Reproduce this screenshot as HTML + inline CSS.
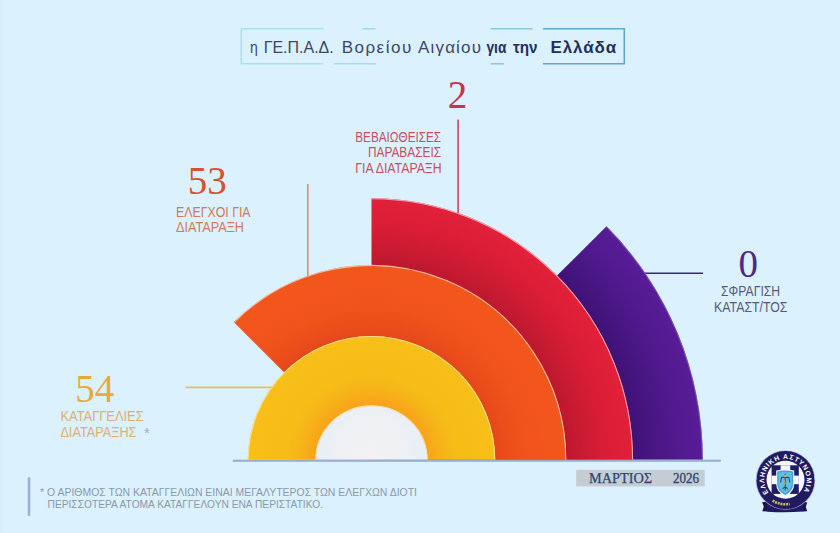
<!DOCTYPE html>
<html><head><meta charset="utf-8">
<style>
html,body{margin:0;padding:0;}
body{width:840px;height:533px;overflow:hidden;background:#dbf1fe;font-family:"Liberation Sans",sans-serif;}
svg{display:block;position:absolute;left:0;top:0;}
.sans{font-family:"Liberation Sans",sans-serif;}
.serif{font-family:"Liberation Serif",serif;}
</style></head><body>
<svg width="840" height="533" viewBox="0 0 840 533">
<defs><radialGradient id="gy" gradientUnits="userSpaceOnUse" cx="371.5" cy="459.8" r="123.75"><stop offset="0.4485" stop-color="#f8a31c"/><stop offset="0.5147" stop-color="#f8ab1a"/><stop offset="0.6139" stop-color="#f6b818"/><stop offset="0.7022" stop-color="#f6bd17"/><stop offset="1.0000" stop-color="#f7bf18"/></radialGradient><radialGradient id="go" gradientUnits="userSpaceOnUse" cx="371.5" cy="459.8" r="194.8"><stop offset="0.6353" stop-color="#e4481b"/><stop offset="0.7009" stop-color="#ec4e1b"/><stop offset="0.7812" stop-color="#f1531c"/><stop offset="1.0000" stop-color="#f3561d"/></radialGradient><radialGradient id="gr" gradientUnits="userSpaceOnUse" cx="371.5" cy="459.8" r="261.6"><stop offset="0.7446" stop-color="#bd182e"/><stop offset="0.8085" stop-color="#c91b32"/><stop offset="0.8851" stop-color="#d91d36"/><stop offset="1.0000" stop-color="#e22039"/></radialGradient><radialGradient id="gp" gradientUnits="userSpaceOnUse" cx="371.5" cy="459.8" r="331.3"><stop offset="0.7896" stop-color="#3f1276"/><stop offset="0.8527" stop-color="#481682"/><stop offset="0.9264" stop-color="#511a8f"/><stop offset="1.0000" stop-color="#581c98"/></radialGradient>
<radialGradient id="gw" gradientUnits="userSpaceOnUse" cx="371.5" cy="449.8" r="56"><stop offset="0" stop-color="#f2f2f3"/><stop offset="0.55" stop-color="#eff0f3"/><stop offset="1" stop-color="#e6eff9"/></radialGradient>
<linearGradient id="gbox" x1="0" x2="1" y1="0" y2="0"><stop offset="0" stop-color="#a9e6ec"/><stop offset="0.5" stop-color="#8fd3e6"/><stop offset="1" stop-color="#4f9cc4"/></linearGradient>
<linearGradient id="gbg" x1="0" x2="1" y1="0" y2="0"><stop offset="0" stop-color="#d5ebf9"/><stop offset="0.006" stop-color="#dbf1fe"/><stop offset="1" stop-color="#dbf1fe"/></linearGradient>
</defs>
<rect x="0" y="0" width="840" height="533" fill="url(#gbg)"/>

<!-- title box -->
<g fill="none" stroke-width="1.6">
<path d="M323.5,28.8 H241.3 V63.8 H323.5" stroke="#a6e4ea"/>
<path d="M362.5,28.8 H375.5" stroke="#9fdde8"/>
<path d="M333.8,63.8 H375.8" stroke="#9fdde8"/>
<path d="M490.8,28.8 H532.5" stroke="#86cbe2"/>
<path d="M490.8,63.8 H503.8" stroke="#86cbe2"/>
<path d="M543,28.8 H624.3 V63.8 H543" stroke="#5fa9cc"/>
</g>
<g class="sans" font-size="17" fill="#3a4866">
<text x="250" y="52.6" textLength="7.8" lengthAdjust="spacingAndGlyphs">η</text>
<text x="263.7" y="52.6" textLength="70" lengthAdjust="spacingAndGlyphs">ΓΕ.Π.Α.Δ.</text>
<text x="341.7" y="52.6" textLength="69.5" lengthAdjust="spacing">Βορείου</text>
<text x="418" y="52.6" textLength="63" lengthAdjust="spacing">Αιγαίου</text>
</g>
<g class="sans" font-size="17" font-weight="bold" fill="#222f5c">
<text x="486.4" y="52.6" textLength="20" lengthAdjust="spacingAndGlyphs">για</text>
<text x="513" y="52.6" textLength="24.6" lengthAdjust="spacingAndGlyphs">την</text>
<text x="550.5" y="52.6" textLength="65.7" lengthAdjust="spacing">Ελλάδα</text>
</g>

<!-- leader lines -->
<line x1="185.4" y1="387.3" x2="275" y2="387.3" stroke="#e6c05c" stroke-width="1.7"/>
<line x1="307.8" y1="184" x2="307.8" y2="280" stroke="#dc8e6c" stroke-width="1.6"/>
<line x1="458.1" y1="119.5" x2="458.1" y2="216" stroke="#d2475c" stroke-width="1.6"/>
<line x1="640" y1="273.3" x2="703" y2="273.3" stroke="#3d2c62" stroke-width="1.5"/>

<!-- rings -->
<path d="M371.5,459.8 L606.58,226.35 A331.3,331.3 0 0 1 702.80,459.8 Z" fill="url(#gp)"/>
<path d="M371.5,459.8 L371.50,198.20 A261.6,261.6 0 0 1 633.10,459.8 Z" fill="url(#gr)"/>
<path d="M371.5,459.8 L233.76,322.06 A194.8,194.8 0 0 1 566.30,459.8 Z" fill="url(#go)"/>
<path d="M371.5,459.8 L247.75,459.80 A123.75,123.75 0 0 1 495.25,459.8 Z" fill="url(#gy)"/>
<path d="M316.0,459.8 A55.5,53.8 0 0 1 427.0,459.8 Z" fill="url(#gw)"/>
<g fill="none" stroke-width="1.1">
<path d="M606.23,226.71 A330.8,330.8 0 0 1 702.30,459.8" stroke="#8a68b8" stroke-opacity="0.6"/>
<path d="M371.50,198.70 A261.1,261.1 0 0 1 632.60,459.8" stroke="#f6b6c0" stroke-opacity="0.85"/>
<path d="M234.11,322.41 A194.3,194.3 0 0 1 565.80,459.8" stroke="#fbc9b4" stroke-opacity="0.85"/>
<path d="M248.25,459.80 A123.25,123.25 0 0 1 494.75,459.8" stroke="#fbe3a0" stroke-opacity="0.85"/>
<path d="M315.8,459.8 A55.7,54 0 0 1 427.2,459.8" stroke="#fbe7b8" stroke-opacity="0.9"/>
</g>

<!-- baseline -->
<rect x="232.8" y="459.7" width="488" height="2.1" fill="#9aafca"/>

<!-- 53 -->
<text class="serif" x="207.2" y="194.4" font-size="39" fill="#d5532c" text-anchor="middle">53</text>
<g class="sans" font-size="14.8" fill="#d07a58">
<text x="176" y="216.9" textLength="74.6" lengthAdjust="spacingAndGlyphs">ΕΛΕΓΧΟΙ ΓΙΑ</text>
<text x="176" y="232.4" textLength="68" lengthAdjust="spacingAndGlyphs">ΔΙΑΤΑΡΑΞΗ</text>
</g>

<!-- 2 -->
<text class="serif" x="457.5" y="107.8" font-size="39" fill="#c8334b" text-anchor="middle">2</text>
<g class="sans" font-size="14.2" fill="#c64f63">
<text x="355.3" y="142.3" textLength="85.8" lengthAdjust="spacingAndGlyphs">ΒΕΒΑΙΩΘΕΙΣΕΣ</text>
<text x="367.9" y="157.4" textLength="73.2" lengthAdjust="spacingAndGlyphs">ΠΑΡΑΒΑΣΕΙΣ</text>
<text x="355.3" y="172.8" textLength="86.4" lengthAdjust="spacingAndGlyphs">ΓΙΑ ΔΙΑΤΑΡΑΞΗ</text>
</g>

<!-- 0 -->
<text class="serif" x="748.3" y="276.8" font-size="39" fill="#4b2a86" text-anchor="middle">0</text>
<g class="sans" font-size="14" fill="#5b587c">
<text x="721.1" y="296.1" textLength="59" lengthAdjust="spacingAndGlyphs">ΣΦΡΑΓΙΣΗ</text>
<text x="714.1" y="311.7" textLength="73.4" lengthAdjust="spacingAndGlyphs">ΚΑΤΑΣΤ/ΤΟΣ</text>
</g>

<!-- 54 -->
<text class="serif" x="94.8" y="401.8" font-size="39" fill="#e9a83a" text-anchor="middle">54</text>
<g class="sans" font-size="14.8" fill="#deb06c">
<text x="60.4" y="421.2" textLength="83.3" lengthAdjust="spacingAndGlyphs">ΚΑΤΑΓΓΕΛΙΕΣ</text>
<text x="60.4" y="437" textLength="76" lengthAdjust="spacingAndGlyphs">ΔΙΑΤΑΡΑΞΗΣ</text>
</g>
<text class="sans" x="144" y="438" font-size="15" fill="#a3acc4">*</text>

<!-- footnote -->
<rect x="27.7" y="477.3" width="2.6" height="38.5" fill="#9bb2d3"/>
<text class="sans" x="40" y="496.3" font-size="11" fill="#8b98aa" textLength="377" lengthAdjust="spacingAndGlyphs">* Ο ΑΡΙΘΜΟΣ ΤΩΝ ΚΑΤΑΓΓΕΛΙΩΝ ΕΙΝΑΙ ΜΕΓΑΛΥΤΕΡΟΣ ΤΩΝ ΕΛΕΓΧΩΝ ΔΙΟΤΙ</text>
<text class="sans" x="47.5" y="508.2" font-size="11" fill="#8b98aa" textLength="275.5" lengthAdjust="spacingAndGlyphs">ΠΕΡΙΣΣΟΤΕΡΑ ΑΤΟΜΑ ΚΑΤΑΓΓΕΛΟΥΝ ΕΝΑ ΠΕΡΙΣΤΑΤΙΚΟ.</text>

<!-- date box -->
<rect x="576.2" y="469.8" width="128.5" height="16.6" fill="#c5ccd3"/>
<text class="serif" x="589" y="483.3" font-size="15" fill="#2a4676" stroke="#2a4676" stroke-width="0.25" textLength="63" lengthAdjust="spacingAndGlyphs">ΜΑΡΤΙΟΣ</text>
<text class="serif" x="673" y="483.3" font-size="15" fill="#2a4676" stroke="#2a4676" stroke-width="0.35" textLength="26" lengthAdjust="spacingAndGlyphs">2026</text>

<!-- logo -->
<g id="logo">
<!-- ribbon behind -->
<path d="M762.1,502.2 L767.6,501.6 L767.6,511.4 L762.3,511.2 L763.8,506.6 Z" fill="#17144a"/>
<path d="M807.2,502.4 L802.6,501.8 L802.6,511.4 L807.2,511.2 L805.8,506.8 Z" fill="#17144a"/>
<path d="M766.6,498 L804,498 L803.4,511.6 Q785.5,513 767.2,511.8 Z" fill="#1f1b5e"/>
<circle cx="785.5" cy="480.1" r="29.7" fill="#a79bd6"/>
<path d="M756,480 A29.7,29.7 0 0 1 815,480 Z" fill="#eef4fb"/>
<circle cx="785.5" cy="480.1" r="29" fill="#1f1b5e"/>
<circle cx="785.5" cy="479.8" r="19" fill="#f6f8fc"/>
<path id="lp" d="M768.57,492.86 A21.2,21.2 0 1 1 803.86,490.70" fill="none"/>
<text class="sans" font-size="6.8" font-weight="bold" fill="#ffffff"><textPath href="#lp" textLength="91.4" lengthAdjust="spacing">ΕΛΛΗΝΙΚΗ ΑΣΤΥΝΟΜΙΑ</textPath></text>
<!-- cross square -->
<rect x="771.6" y="465.3" width="27.2" height="28.6" fill="#1f1c66"/>
<rect x="780.6" y="465.3" width="9.6" height="28.6" fill="#f4f7fc"/>
<rect x="771.6" y="475.6" width="27.2" height="8.6" fill="#f4f7fc"/>
<!-- shield -->
<path d="M776.2,470.4 Q785.2,468.6 794.2,470.4 V484 Q794.2,492 785.2,496.4 Q776.2,492 776.2,484 Z" fill="#f2f7fc"/>
<path d="M777.2,471.4 Q785.2,469.8 793.2,471.4 V484 Q793.2,491 785.2,495 Q777.2,491 777.2,484 Z" fill="#3fa3da"/>
<path d="M778.6,472.6 Q785.2,471.4 791.8,472.6 V484 Q791.8,489.6 785.2,493.2 Q778.6,489.6 778.6,484 Z" fill="#62bde6"/>
<path d="M785.2,474 V490 M781.6,477.4 H788.8 M781.6,477.4 L780.6,482 M788.8,477.4 L789.8,482 M783,488.6 Q785.2,486 787.4,488.6" stroke="#25506e" stroke-width="1.1" fill="none" stroke-linecap="round"/>
<circle cx="785.2" cy="476" r="1.3" fill="#c9b24a"/>
<path d="M784,480 q1.6,2 0.6,5" stroke="#c9b24a" stroke-width="1" fill="none"/>
<!-- gold text on ring bottom -->
<path d="M772.68,500.62 A24.2,24.2 0 0 0 789.70,503.93" stroke="#cdbb62" stroke-width="2.6" stroke-dasharray="2 0.8" fill="none"/>
</g>
</svg>
</body></html>
